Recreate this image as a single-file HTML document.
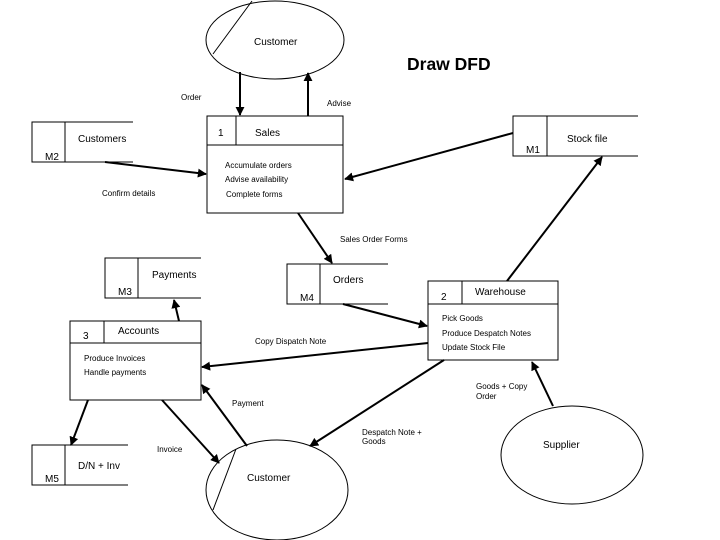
<!DOCTYPE html>
<html><head><style>body{margin:0;background:#fff}svg{display:block}</style></head><body>
<svg width="720" height="540" xmlns="http://www.w3.org/2000/svg" font-family="Liberation Sans, sans-serif">
<defs><marker id="a" viewBox="0 0 10 10" refX="9" refY="5" markerWidth="4.5" markerHeight="4.5" orient="auto"><path d="M0,0L10,5L0,10z" fill="#000"/></marker></defs>
<g fill="none" stroke="#000" stroke-width="1">
<ellipse cx="275" cy="40" rx="69" ry="39"/><line x1="252" y1="1" x2="213" y2="54"/>
<ellipse cx="277" cy="490" rx="71" ry="50"/><line x1="236" y1="449" x2="213" y2="510"/>
<ellipse cx="572" cy="455" rx="71" ry="49"/>
<rect x="207" y="116" width="136" height="97"/><line x1="207" y1="145" x2="343" y2="145"/><line x1="236" y1="116" x2="236" y2="145"/>
<rect x="428" y="281" width="130" height="79"/><line x1="428" y1="304" x2="558" y2="304"/><line x1="462" y1="281" x2="462" y2="304"/>
<rect x="70" y="321" width="131" height="79"/><line x1="70" y1="343" x2="201" y2="343"/><line x1="104" y1="321" x2="104" y2="343"/>
<path d="M133,122H32V162H133M65,122V162"/>
<path d="M638,116H513V156H638M547,116V156"/>
<path d="M201,258H105V298H201M138,258V298"/>
<path d="M388,264H287V304H388M320,264V304"/>
<path d="M128,445H32V485H128M65,445V485"/>
</g>
<g stroke="#000" stroke-width="2" marker-end="url(#a)" fill="none">
<line x1="240" y1="72" x2="240" y2="115"/>
<line x1="308" y1="116" x2="308" y2="73"/>
<line x1="105" y1="162" x2="206" y2="174"/>
<line x1="513" y1="133" x2="345" y2="179"/>
<line x1="298" y1="213" x2="332" y2="263"/>
<line x1="343" y1="304" x2="427" y2="326"/>
<line x1="428" y1="343" x2="202" y2="367"/>
<line x1="507" y1="281" x2="602" y2="157"/>
<line x1="179" y1="321" x2="174" y2="300"/>
<line x1="88" y1="400" x2="71" y2="445"/>
<line x1="162" y1="400" x2="219" y2="463"/>
<line x1="247" y1="446" x2="202" y2="385"/>
<line x1="444" y1="360" x2="310" y2="446"/>
<line x1="553" y1="406" x2="532" y2="362"/>
</g>
<g font-size="8" fill="#000">
<text x="181" y="100">Order</text><text x="327" y="106">Advise</text>
<text x="225" y="168">Accumulate orders</text><text x="225" y="182">Advise availability</text><text x="226" y="197">Complete forms</text>
<text x="102" y="196">Confirm details</text><text x="340" y="242">Sales Order Forms</text>
<text x="442" y="321">Pick Goods</text><text x="442" y="336">Produce Despatch Notes</text><text x="442" y="350">Update Stock File</text>
<text x="255" y="344">Copy Dispatch Note</text>
<text x="84" y="361">Produce Invoices</text><text x="84" y="375">Handle payments</text>
<text x="232" y="406">Payment</text><text x="157" y="452">Invoice</text>
<text x="362" y="435">Despatch Note +</text><text x="362" y="444">Goods</text>
<text x="476" y="389">Goods + Copy</text><text x="476" y="399">Order</text>
</g>
<g font-size="10" fill="#000">
<text x="254" y="45">Customer</text><text x="247" y="481">Customer</text><text x="543" y="448">Supplier</text>
<text x="218" y="136">1</text><text x="255" y="136">Sales</text>
<text x="78" y="142">Customers</text><text x="45" y="160">M2</text>
<text x="567" y="142">Stock file</text><text x="526" y="153">M1</text>
<text x="152" y="278">Payments</text><text x="118" y="295">M3</text>
<text x="333" y="283">Orders</text><text x="300" y="301">M4</text>
<text x="441" y="300">2</text><text x="475" y="295">Warehouse</text>
<text x="83" y="339">3</text><text x="118" y="334">Accounts</text>
<text x="78" y="469">D/N + Inv</text><text x="45" y="482">M5</text>
</g>
<text x="407" y="70" font-size="17.5" font-weight="bold">Draw DFD</text>
</svg>
</body></html>
